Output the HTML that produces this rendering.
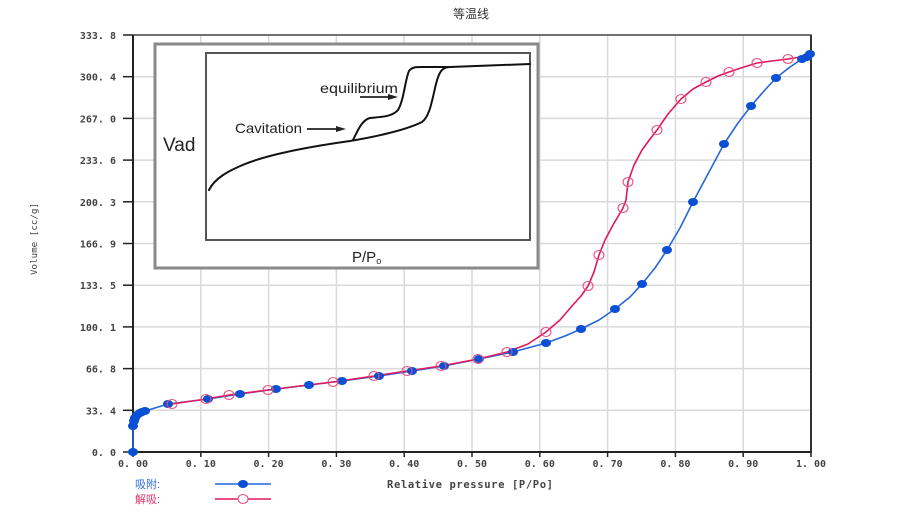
<!DOCTYPE html>
<html><head><meta charset="utf-8"><style>
html,body{margin:0;padding:0;background:#fff;}
svg{display:block;}
</style></head><body>
<svg width="899" height="514" viewBox="0 0 899 514" xmlns="http://www.w3.org/2000/svg">
<rect width="899" height="514" fill="#fff"/>
<text x="471" y="18" font-family="'Liberation Sans','Noto Sans CJK SC',sans-serif" font-size="12" fill="#333" text-anchor="middle">等温线</text>
<!-- grid -->
<g stroke="#d9d9d9" stroke-width="1.5">
<line x1="200.8" y1="35" x2="200.8" y2="452"/><line x1="268.6" y1="35" x2="268.6" y2="452"/><line x1="336.4" y1="35" x2="336.4" y2="452"/><line x1="404.2" y1="35" x2="404.2" y2="452"/><line x1="472" y1="35" x2="472" y2="452"/><line x1="539.8" y1="35" x2="539.8" y2="452"/><line x1="607.6" y1="35" x2="607.6" y2="452"/><line x1="675.4" y1="35" x2="675.4" y2="452"/><line x1="743.2" y1="35" x2="743.2" y2="452"/>
<line x1="133" y1="76.7" x2="811" y2="76.7"/><line x1="133" y1="118.4" x2="811" y2="118.4"/><line x1="133" y1="160.1" x2="811" y2="160.1"/><line x1="133" y1="201.8" x2="811" y2="201.8"/><line x1="133" y1="243.5" x2="811" y2="243.5"/><line x1="133" y1="285.2" x2="811" y2="285.2"/><line x1="133" y1="326.9" x2="811" y2="326.9"/><line x1="133" y1="368.6" x2="811" y2="368.6"/><line x1="133" y1="410.3" x2="811" y2="410.3"/>
</g>
<!-- frame -->
<rect x="133" y="35" width="678" height="417" fill="none" stroke="#444" stroke-width="1.5"/>
<line x1="133" y1="35" x2="133" y2="452" stroke="#222" stroke-width="2"/>
<line x1="133" y1="452" x2="812" y2="452" stroke="#222" stroke-width="2"/>
<line x1="811" y1="35" x2="811" y2="452" stroke="#333" stroke-width="2"/>
<!-- ticks -->
<g stroke="#222" stroke-width="1.5">
<line x1="123" y1="35" x2="133" y2="35"/><line x1="123" y1="76.7" x2="133" y2="76.7"/><line x1="123" y1="118.4" x2="133" y2="118.4"/><line x1="123" y1="160.1" x2="133" y2="160.1"/><line x1="123" y1="201.8" x2="133" y2="201.8"/><line x1="123" y1="243.5" x2="133" y2="243.5"/><line x1="123" y1="285.2" x2="133" y2="285.2"/><line x1="123" y1="326.9" x2="133" y2="326.9"/><line x1="123" y1="368.6" x2="133" y2="368.6"/><line x1="123" y1="410.3" x2="133" y2="410.3"/><line x1="123" y1="452" x2="133" y2="452"/>
<line x1="133" y1="452" x2="133" y2="457"/><line x1="200.8" y1="452" x2="200.8" y2="457"/><line x1="268.6" y1="452" x2="268.6" y2="457"/><line x1="336.4" y1="452" x2="336.4" y2="457"/><line x1="404.2" y1="452" x2="404.2" y2="457"/><line x1="472" y1="452" x2="472" y2="457"/><line x1="539.8" y1="452" x2="539.8" y2="457"/><line x1="607.6" y1="452" x2="607.6" y2="457"/><line x1="675.4" y1="452" x2="675.4" y2="457"/><line x1="743.2" y1="452" x2="743.2" y2="457"/><line x1="811" y1="452" x2="811" y2="457"/>
</g>
<g font-family="'DejaVu Sans Mono',monospace" font-size="10" font-weight="bold" fill="#444" text-anchor="end">
<text x="116" y="39">333. 8</text><text x="116" y="80.7">300. 4</text><text x="116" y="122.4">267. 0</text><text x="116" y="164.1">233. 6</text><text x="116" y="205.8">200. 3</text><text x="116" y="247.5">166. 9</text><text x="116" y="289.2">133. 5</text><text x="116" y="330.9">100. 1</text><text x="116" y="372.6">66. 8</text><text x="116" y="414.3">33. 4</text><text x="116" y="456">0. 0</text>
</g>
<g font-family="'DejaVu Sans Mono',monospace" font-size="10" font-weight="bold" fill="#444" text-anchor="middle">
<text x="133" y="467">0. 00</text><text x="200.8" y="467">0. 10</text><text x="268.6" y="467">0. 20</text><text x="336.4" y="467">0. 30</text><text x="404.2" y="467">0. 40</text><text x="472" y="467">0. 50</text><text x="539.8" y="467">0. 60</text><text x="607.6" y="467">0. 70</text><text x="675.4" y="467">0. 80</text><text x="743.2" y="467">0. 90</text><text x="811" y="467">1. 00</text>
</g>
<text x="387" y="488" font-family="'DejaVu Sans Mono',monospace" font-size="10.5" font-weight="bold" fill="#444" textLength="166" lengthAdjust="spacing">Relative pressure [P/Po]</text>
<text transform="translate(37,239) rotate(-90)" font-family="'DejaVu Sans Mono',monospace" font-size="9" fill="#444" text-anchor="middle" textLength="72" lengthAdjust="spacing">Volume [cc/g]</text>

<!-- inset -->
<rect x="155" y="44" width="383" height="224" fill="#fff" stroke="#8a8a8a" stroke-width="3"/>
<rect x="206" y="53" width="324" height="187" fill="#fff" stroke="#555" stroke-width="2"/>
<text x="163" y="151" font-family="'Liberation Sans',sans-serif" font-size="19" fill="#222">Vad</text>
<text x="352" y="262" font-family="'Liberation Sans',sans-serif" font-size="15" fill="#222">P/P<tspan font-size="9" dy="2">o</tspan></text>
<text x="235" y="133" font-family="'Liberation Sans',sans-serif" font-size="14" fill="#222" textLength="67" lengthAdjust="spacingAndGlyphs">Cavitation</text>
<text x="320" y="93" font-family="'Liberation Sans',sans-serif" font-size="14" fill="#222" textLength="78" lengthAdjust="spacingAndGlyphs">equilibrium</text>
<g stroke="#222" stroke-width="1.8" fill="none">
<line x1="307" y1="129" x2="340" y2="129"/>
<line x1="360" y1="97" x2="392" y2="97"/>
</g>
<polygon points="346,129 336,126 336,132" fill="#222"/>
<polygon points="398,97 388,94 388,100" fill="#222"/>
<g stroke="#111" stroke-width="2" fill="none" stroke-linejoin="round" stroke-linecap="round">
<path d="M209,190 C215,178 228,171 245,164 C265,156 300,148 350,141 C385,135 410,128 422,122 C430,116 432,100 436,84 C439,72 442,67 450,67 L530,64"/>
<path d="M353,140 C358,130 362,120 370,118 C380,117 392,117 398,110 C404,100 405,80 409,71 C412,67 416,67 422,67 L450,67"/>
</g>

<!-- adsorption -->
<polyline fill="none" stroke="#2466dc" stroke-width="1.6" stroke-linejoin="round" points="133,452 133,426 134,421 135,418 137,415 140,413 142,412 145,411 168,404 208,399 240,394 276,389 309,385 342,381 379,376 412,371 444,366 479,359 513,352 546,343 565,336 581,329 599,320 615,309 630,297 642,284 655,268 667,250 680,228 693,202 709,172 724,144 738,123 751,106 764,91 776,78 790,67 802,59 807,57 810,54"/>
<!-- desorption -->
<polyline fill="none" stroke="#e0185c" stroke-width="1.6" stroke-linejoin="round" points="172,404 206,399 229,395 268,390 300,386 333,382 374,376 407,371 441,366 478,359 507,352 528,344 546,332 560,320 572,306 581,296 588,286 594,272 599,255 605,240 613,225 623,208 626,200 628,182 634,165 642,150 650,139 657,130 668,114 681,99 693,89 706,82 718,76 729,72 744,67 757,63 772,61 788,59 800,57 812,53"/>
<g fill="#0a4fd4">
<ellipse cx="133" cy="452" rx="5" ry="4"/><ellipse cx="133" cy="426" rx="5" ry="4"/><ellipse cx="134" cy="421" rx="5" ry="4"/><ellipse cx="135" cy="418" rx="5" ry="4"/><ellipse cx="137" cy="415" rx="5" ry="4"/><ellipse cx="140" cy="413" rx="5" ry="4"/><ellipse cx="142" cy="412" rx="5" ry="4"/><ellipse cx="145" cy="411" rx="5" ry="4"/><ellipse cx="168" cy="404" rx="5" ry="4"/><ellipse cx="208" cy="399" rx="5" ry="4"/><ellipse cx="240" cy="394" rx="5" ry="4"/><ellipse cx="276" cy="389" rx="5" ry="4"/><ellipse cx="309" cy="385" rx="5" ry="4"/><ellipse cx="342" cy="381" rx="5" ry="4"/><ellipse cx="379" cy="376" rx="5" ry="4"/><ellipse cx="412" cy="371" rx="5" ry="4"/><ellipse cx="444" cy="366" rx="5" ry="4"/><ellipse cx="479" cy="359" rx="5" ry="4"/><ellipse cx="513" cy="352" rx="5" ry="4"/><ellipse cx="546" cy="343" rx="5" ry="4"/><ellipse cx="581" cy="329" rx="5" ry="4"/><ellipse cx="615" cy="309" rx="5" ry="4"/><ellipse cx="642" cy="284" rx="5" ry="4"/><ellipse cx="667" cy="250" rx="5" ry="4"/><ellipse cx="693" cy="202" rx="5" ry="4"/><ellipse cx="724" cy="144" rx="5" ry="4"/><ellipse cx="751" cy="106" rx="5" ry="4"/><ellipse cx="776" cy="78" rx="5" ry="4"/><ellipse cx="802" cy="59" rx="5" ry="4"/><ellipse cx="807" cy="57" rx="5" ry="4"/><ellipse cx="810" cy="54" rx="5" ry="4"/>
</g>
<g fill="none" stroke="#e8507c" stroke-width="1.1">
<ellipse cx="172" cy="404" rx="5" ry="4.5"/><ellipse cx="206" cy="399" rx="5" ry="4.5"/><ellipse cx="229" cy="395" rx="5" ry="4.5"/><ellipse cx="268" cy="390" rx="5" ry="4.5"/><ellipse cx="333" cy="382" rx="5" ry="4.5"/><ellipse cx="374" cy="376" rx="5" ry="4.5"/><ellipse cx="407" cy="371" rx="5" ry="4.5"/><ellipse cx="441" cy="366" rx="5" ry="4.5"/><ellipse cx="478" cy="359" rx="5" ry="4.5"/><ellipse cx="507" cy="352" rx="5" ry="4.5"/><ellipse cx="546" cy="332" rx="5" ry="4.5"/><ellipse cx="588" cy="286" rx="5" ry="4.5"/><ellipse cx="599" cy="255" rx="5" ry="4.5"/><ellipse cx="623" cy="208" rx="5" ry="4.5"/><ellipse cx="628" cy="182" rx="5" ry="4.5"/><ellipse cx="657" cy="130" rx="5" ry="4.5"/><ellipse cx="681" cy="99" rx="5" ry="4.5"/><ellipse cx="706" cy="82" rx="5" ry="4.5"/><ellipse cx="729" cy="72" rx="5" ry="4.5"/><ellipse cx="757" cy="63" rx="5" ry="4.5"/><ellipse cx="788" cy="59" rx="5" ry="4.5"/>
</g>

<!-- legend -->
<text x="135" y="488" font-family="'Liberation Sans','Noto Sans CJK SC',sans-serif" font-size="11" fill="#2a6be0">吸附:</text>
<text x="135" y="503" font-family="'Liberation Sans','Noto Sans CJK SC',sans-serif" font-size="11" fill="#e0306e">解吸:</text>
<line x1="215" y1="484" x2="271" y2="484" stroke="#2466dc" stroke-width="1.6"/>
<ellipse cx="243" cy="484" rx="5" ry="4" fill="#0a4fd4"/>
<line x1="215" y1="499" x2="271" y2="499" stroke="#e0185c" stroke-width="1.6"/>
<ellipse cx="243" cy="499" rx="5" ry="4.5" fill="#fff" stroke="#e8507c" stroke-width="1.1"/>
</svg>
</body></html>
